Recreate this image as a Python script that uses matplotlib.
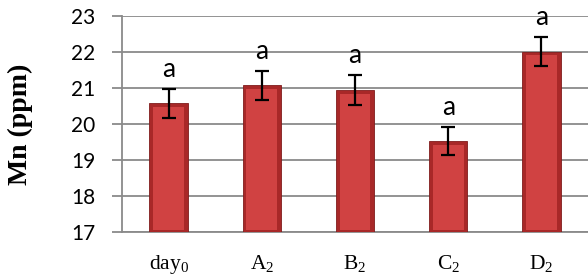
import matplotlib
matplotlib.use('Agg')
import matplotlib.pyplot as plt
import numpy as np

# 数据
categories = [r'day$_0$', r'A$_2$', r'B$_2$', r'C$_2$', r'D$_2$']
mn_values = [20.58, 21.08, 20.94, 19.53, 22.01]
mn_errors = [0.40, 0.40, 0.42, 0.40, 0.40]
letters = ['a', 'a', 'a', 'a', 'a']
y_ticks = [17, 18, 19, 20, 21, 22, 23]

plt.rcParams['mathtext.fontset'] = 'custom'
plt.rcParams['mathtext.rm'] = 'Liberation Serif'
plt.rcParams['mathtext.it'] = 'Liberation Serif'

grid_color = '#8a8a8a'
bar_dark = '#a82828'
bar_light = '#d04242'

fig = plt.figure(figsize=(5.88, 2.79), dpi=100)
ax = fig.add_axes([122 / 588, 1 - 232 / 279, 1 - 122 / 588, (232 - 16) / 279])

x = np.arange(len(categories))
base = y_ticks[0]
heights = np.array(mn_values) - base

# 柱子 (外框 + 内部高光)
ax.bar(x, heights, width=0.41, bottom=base, color=bar_dark,
       edgecolor='#801c1c', linewidth=0.6, zorder=3)
ax.bar(x, heights - 0.16, width=0.33, bottom=base + 0.06, color=bar_light,
       linewidth=0, zorder=3)

# 误差线
ax.errorbar(x, mn_values, yerr=mn_errors, fmt='none', ecolor='black',
            elinewidth=1.6, capsize=5, capthick=1.6, zorder=4)

# 显著性字母
for xi, v, e, t in zip(x, mn_values, mn_errors, letters):
    ax.text(xi, v + e + 0.33, t, ha='center', va='baseline',
            fontsize=19, family='Lato', zorder=5)

ax.set_xlim(-0.5, len(categories) - 0.5)
ax.set_ylim(y_ticks[0], y_ticks[-1])
ax.set_yticks(y_ticks)
ax.set_yticklabels([str(t) for t in y_ticks], family='Lato', fontsize=15)
ax.set_xticks(x)
ax.set_xticklabels(categories, family='Liberation Serif', fontsize=15.5)

ax.yaxis.grid(True, color=grid_color, linewidth=1.3, zorder=0)
ax.set_axisbelow(True)
ax.tick_params(axis='y', length=7, width=1.3, color=grid_color, pad=12)
ax.tick_params(axis='x', length=0, pad=15)

for s in ['top', 'right']:
    ax.spines[s].set_visible(False)
for s in ['left', 'bottom']:
    ax.spines[s].set_color(grid_color)
    ax.spines[s].set_linewidth(1.3)

ax.set_ylabel('Mn (ppm)', family='Liberation Serif', fontweight='bold',
              fontsize=20)
ax.yaxis.set_label_coords(-0.19, 0.5)

fig.savefig('out.png', dpi=100)
